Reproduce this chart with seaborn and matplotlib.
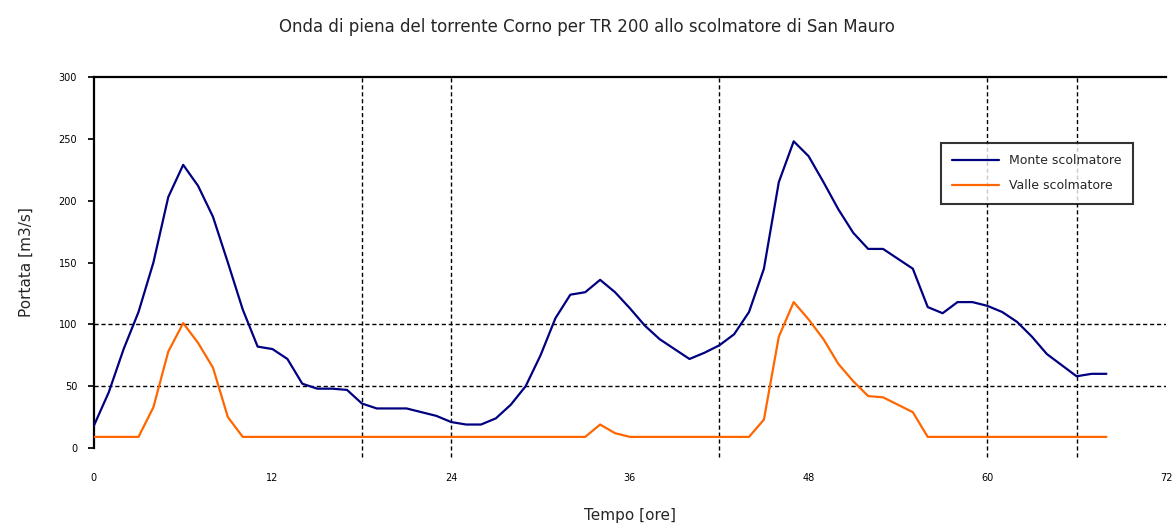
import pandas as pd
import matplotlib
matplotlib.use("Agg")
import matplotlib.pyplot as plt
import seaborn as sns

# Tempo [ore], passo orario
ore = list(range(0, 69))

# Portata a monte dello scolmatore [m3/s]
monte = [18, 45, 80, 110, 150, 203, 229, 212, 187, 150,
         112, 82, 80, 72, 52, 48, 48, 47, 36, 32,
         32, 32, 29, 26, 21, 19, 19, 24, 35, 50,
         75, 105, 124, 126, 136, 126, 113, 99, 88, 80,
         72, 77, 83, 92, 110, 145, 215, 248, 236, 215,
         193, 174, 161, 161, 153, 145, 114, 109, 118, 118,
         115, 110, 102, 90, 76, 67, 58, 60, 60]

# Portata a valle dello scolmatore [m3/s]
valle = [9, 9, 9, 9, 33, 78, 101, 85, 65, 25,
         9, 9, 9, 9, 9, 9, 9, 9, 9, 9,
         9, 9, 9, 9, 9, 9, 9, 9, 9, 9,
         9, 9, 9, 9, 19, 12, 9, 9, 9, 9,
         9, 9, 9, 9, 9, 23, 90, 118, 104, 88,
         68, 54, 42, 41, 35, 29, 9, 9, 9, 9,
         9, 9, 9, 9, 9, 9, 9, 9, 9]

serie = ["Monte scolmatore", "Valle scolmatore"]
colori = {"Monte scolmatore": "#000080", "Valle scolmatore": "#FF6600"}

x_ticks = [0, 12, 24, 36, 48, 60, 72]
y_ticks = [0, 50, 100, 150, 200, 250, 300]
griglia_x = [18, 24, 42, 60, 66]
griglia_y = [50, 100]

df = pd.DataFrame({
    "ore": ore * 2,
    "portata": monte + valle,
    "serie": [serie[0]] * len(ore) + [serie[1]] * len(ore),
})

sns.set_theme(style="white")
plt.rcParams['font.family'] = ['DejaVu Sans']

fig = plt.figure(figsize=(11.73, 5.24), dpi=100)
ax = fig.add_axes([0.080, 0.145, 0.914, 0.708])

for gx in griglia_x:
    ax.axvline(gx, ymin=-0.025, ymax=1, color="black", lw=1.0,
               ls=(0, (3, 2)), zorder=1, clip_on=False)
for gy in griglia_y:
    ax.axhline(gy, color="black", lw=1.0, ls=(0, (3, 2)), zorder=1)

sns.lineplot(data=df, x="ore", y="portata", hue="serie", palette=colori,
             linewidth=1.6, ax=ax, zorder=3)

ax.set_xlim(0, 72)
ax.set_ylim(0, 300)
ax.set_xticks(x_ticks)
ax.set_yticks(y_ticks)
ax.tick_params(axis="both", labelsize=7, colors="black", length=4,
               direction="out", left=True, bottom=False, pad=8)
ax.tick_params(axis="x", pad=14)

for s in ["right", "bottom"]:
    ax.spines[s].set_visible(False)
for s in ["left", "top"]:
    ax.spines[s].set_color("black")
    ax.spines[s].set_linewidth(1.6)

ax.set_xlabel("Tempo [ore]", fontsize=11, labelpad=18)
ax.set_ylabel("Portata [m3/s]", fontsize=11, labelpad=18)
fig.suptitle("Onda di piena del torrente Corno per TR 200 allo scolmatore di San Mauro",
             fontsize=12, y=0.965)

leg = ax.legend(title=None, loc="upper left", bbox_to_anchor=(0.784, 0.84),
                fontsize=9, frameon=True, fancybox=False, borderpad=0.9,
                labelspacing=1.0, handlelength=3.8)
leg.get_frame().set_edgecolor("black")
leg.get_frame().set_linewidth(1.5)

fig.savefig("out.png", dpi=100)
